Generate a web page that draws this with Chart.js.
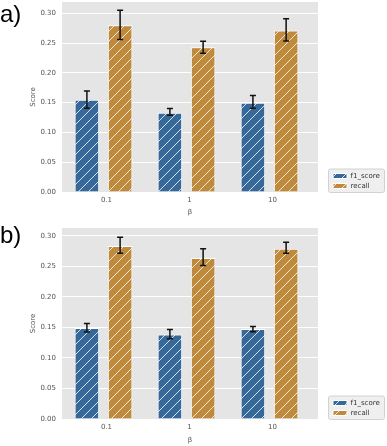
<!DOCTYPE html>
<html><head><meta charset="utf-8">
<script src="https://cdn.jsdelivr.net/npm/chart.js@4"></script>
<style>
html,body{margin:0;padding:0;background:#fff;overflow:hidden;}
#wrap{position:relative;width:387px;height:446px;}
canvas{position:absolute;left:0;}
.lab{position:absolute;left:0;font-family:'Liberation Sans',Arial,sans-serif;font-size:24px;line-height:24px;color:#000;}
</style></head><body>
<div id="wrap">
<canvas id="c1" width="387" height="220" style="top:0"></canvas>
<canvas id="c2" width="387" height="226" style="top:220px"></canvas>
<div class="lab" style="top:2px">a)</div>
<div class="lab" style="top:223px">b)</div>
</div>
<script>
// ---- data ----
const categories = ['0.1', '1', '10'];
const seriesNames = ['f1_score', 'recall'];
const yTickValues = [0, 0.05, 0.10, 0.15, 0.20, 0.25, 0.30];
const yTickLabels = ['0.00', '0.05', '0.10', '0.15', '0.20', '0.25', '0.30'];

// panel a)
const f1A     = [0.155, 0.133, 0.150];
const f1A_lo  = [0.1405, 0.129, 0.1405];
const f1A_hi  = [0.1695, 0.140, 0.162];
const recA    = [0.280, 0.243, 0.271];
const recA_lo = [0.256, 0.233, 0.2535];
const recA_hi = [0.305, 0.253, 0.291];

// panel b)
const f1B     = [0.149, 0.1385, 0.1473];
const f1B_lo  = [0.1424, 0.1314, 0.1429];
const f1B_hi  = [0.1565, 0.1467, 0.1516];
const recB    = [0.2837, 0.264, 0.279];
const recB_lo = [0.2717, 0.2514, 0.2717];
const recB_hi = [0.298, 0.279, 0.2897];

// ---- styles ----
const BLUE = '#36699a';
const GOLD = '#c08a3c';
const FONT = "'DejaVu Sans', sans-serif";

function makeHatch(color) {
  const s = 10;
  const c = document.createElement('canvas');
  c.width = s; c.height = s;
  const g = c.getContext('2d');
  g.fillStyle = color;
  g.fillRect(0, 0, s, s);
  g.strokeStyle = 'rgba(255,255,255,0.8)';
  g.lineWidth = 1;
  g.beginPath();
  g.moveTo(0, s); g.lineTo(s, 0);
  g.moveTo(-2, 2); g.lineTo(2, -2);
  g.moveTo(s - 2, s + 2); g.lineTo(s + 2, s - 2);
  g.stroke();
  return g.createPattern(c, 'repeat');
}

const bgPlugin = {
  id: 'bgPlugin',
  afterLayout(chart) {
    const lg = chart.legend;
    if (lg) {
      const dx = 333 - 3 - lg.left;
      lg.left += dx; lg.right += dx;
      lg.bottom += 0.5;
    }
  },
  beforeDraw(chart) {
    const {ctx, chartArea: a} = chart;
    ctx.save();
    ctx.fillStyle = '#e5e5e5';
    ctx.fillRect(a.left, a.top, a.right - a.left, a.bottom - a.top);
    const lg = chart.legend;
    if (lg && lg.legendHitBoxes && lg.legendHitBoxes.length) {
      const hb = lg.legendHitBoxes;
      const x0 = hb[0].left - 5, x1 = hb[0].left + 51;
      const y0 = hb[0].top - 4, y1 = a.bottom;
      ctx.fillStyle = '#efefef';
      ctx.strokeStyle = '#d2d2d2';
      ctx.lineWidth = 1;
      ctx.beginPath();
      if (ctx.roundRect) ctx.roundRect(x0 + 0.5, y0 + 0.5, x1 - x0, y1 - y0, 2);
      else ctx.rect(x0 + 0.5, y0 + 0.5, x1 - x0, y1 - y0);
      ctx.fill(); ctx.stroke();
    }
    ctx.restore();
  }
};

const errPlugin = {
  id: 'errPlugin',
  afterDatasetsDraw(chart) {
    const {ctx} = chart;
    const ys = chart.scales.y;
    ctx.save();
    ctx.strokeStyle = '#111';
    ctx.lineWidth = 1.5;
    chart.data.datasets.forEach((ds, i) => {
      const meta = chart.getDatasetMeta(i);
      meta.data.forEach((bar, j) => {
        const x = bar.x;
        const yl = ys.getPixelForValue(ds.errLo[j]);
        const yh = ys.getPixelForValue(ds.errHi[j]);
        ctx.beginPath();
        ctx.moveTo(x, yl); ctx.lineTo(x, yh);
        ctx.moveTo(x - 3, yl); ctx.lineTo(x + 3, yl);
        ctx.moveTo(x - 3, yh); ctx.lineTo(x + 3, yh);
        ctx.stroke();
      });
    });
    ctx.restore();
  }
};

function build(id, f1, f1Lo, f1Hi, rec, recLo, recHi, yMax, padTop, xHeight, titlePadB) {
  const ctx = document.getElementById(id).getContext('2d');
  const toXY = arr => arr.map((v, i) => ({x: i, y: v}));
  new Chart(ctx, {
    type: 'bar',
    data: {
      datasets: [
        {label: seriesNames[0], data: toXY(f1), backgroundColor: makeHatch(BLUE),
         borderColor: '#ffffff', borderWidth: 1, errLo: f1Lo, errHi: f1Hi},
        {label: seriesNames[1], data: toXY(rec), backgroundColor: makeHatch(GOLD),
         borderColor: '#ffffff', borderWidth: 1, errLo: recLo, errHi: recHi}
      ]
    },
    options: {
      responsive: false,
      animation: false,
      devicePixelRatio: 1,
      categoryPercentage: 0.8,
      barPercentage: 0.74,
      layout: {padding: {top: padTop, right: 19, bottom: 0, left: 0}},
      scales: {
        x: {
          type: 'linear',
          offset: false,
          min: -0.5,
          max: 2.584,
          grid: {display: false, drawTicks: false, offset: false},
          border: {display: false},
          afterBuildTicks: s => { s.ticks = categories.map((c, i) => ({value: i})); },
          afterFit: s => { s.height = xHeight; s.paddingLeft = 0; s.paddingRight = 0; },
          ticks: {
            callback: v => categories[v],
            font: {family: FONT, size: 7},
            color: '#555',
            padding: 4,
            labelOffset: 3,
            maxRotation: 0,
            autoSkip: false
          },
          title: {display: true, text: 'β', font: {family: FONT, size: 7}, color: '#555',
                  padding: {top: 0, bottom: titlePadB}}
        },
        y: {
          min: 0,
          max: yMax,
          grid: {color: '#ffffff', lineWidth: 1, drawTicks: false},
          border: {display: false},
          afterBuildTicks: s => { s.ticks = yTickValues.map(v => ({value: v})); },
          afterFit: s => { s.width = 62; s.paddingTop = 0; s.paddingBottom = 0; },
          ticks: {
            callback: (v, i) => yTickLabels[i],
            font: {family: FONT, size: 7},
            color: '#555',
            padding: 6
          },
          title: {display: true, text: 'Score', font: {family: FONT, size: 7}, color: '#555',
                  padding: {top: 28.8, bottom: 0}}
        }
      },
      plugins: {
        legend: {
          position: 'right',
          fullSize: false,
          align: 'end',
          maxWidth: 50,
          labels: {boxWidth: 14, boxHeight: 5, padding: 3,
                   font: {family: FONT, size: 7}, color: '#333'}
        },
        tooltip: {enabled: false}
      }
    },
    plugins: [bgPlugin, errPlugin]
  });
}

build('c1', f1A, f1A_lo, f1A_hi, recA, recA_lo, recA_hi, 0.319, 2, 28, 3.5);
build('c2', f1B, f1B_lo, f1B_hi, recB, recB_lo, recB_hi, 0.313, 8, 27, 2);
</script>
</body></html>
